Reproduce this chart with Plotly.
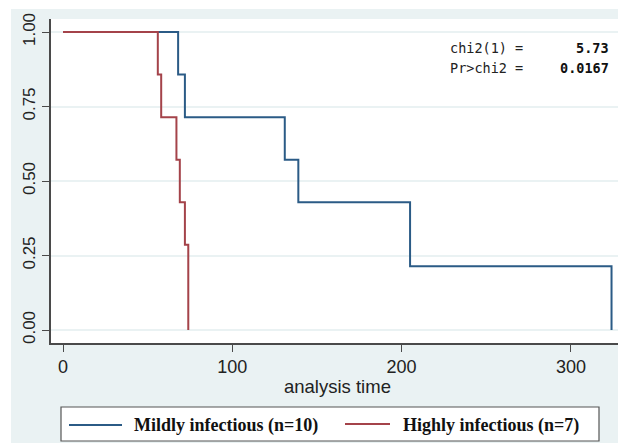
import plotly.graph_objects as go

# Kaplan-Meier survival estimates by group
mild_time = [0, 68, 72, 131, 139, 205, 324]
mild_surv = [1.0, 0.857, 0.714, 0.571, 0.429, 0.214, 0.0]

high_time = [0, 56, 58, 67, 69, 72, 74]
high_surv = [1.0, 0.857, 0.714, 0.571, 0.429, 0.286, 0.0]

mild_name = "Mildly infectious (n=10)"
high_name = "Highly infectious (n=7)"

x_ticks = [0, 100, 200, 300]
y_ticks = [0.0, 0.25, 0.50, 0.75, 1.0]

chi_label = ["chi2(1) =", "Pr>chi2 ="]
chi_value = ["5.73", "0.0167"]

BLUE = "#2b5b86"
RED = "#a4434a"
BG = "#eaf2f3"
AXIS = "#4a4a4a"
SANS = "Arial, Liberation Sans, Helvetica, sans-serif"

# plot area geometry in pixels
W, H = 618, 443
L, R, T, B = 51, 0, 19, 100
PW, PH = W - L - R, H - T - B


def px(x):
    return (x - L) / PW


def py(y):
    return (H - B - y) / PH


fig = go.Figure()
fig.add_trace(go.Scatter(x=mild_time, y=mild_surv, mode="lines", line_shape="hv",
                         line=dict(color=BLUE, width=2), name=mild_name,
                         showlegend=False))
fig.add_trace(go.Scatter(x=high_time, y=high_surv, mode="lines", line_shape="hv",
                         line=dict(color=RED, width=2), name=high_name,
                         showlegend=False))

shapes = [
    # white margin strips around the graph region
    dict(type="rect", xref="paper", yref="paper", x0=-0.2, x1=px(11), y0=-0.5, y1=1.2,
         fillcolor="white", line_width=0, layer="below"),
    dict(type="rect", xref="paper", yref="paper", x0=-0.2, x1=1.2, y0=py(9), y1=1.2,
         fillcolor="white", line_width=0, layer="below"),
    # legend box
    dict(type="rect", xref="paper", yref="paper", x0=px(61), x1=px(599), y0=py(441), y1=py(407),
         fillcolor="white", line=dict(color="#555555", width=1.2), layer="above"),
    dict(type="line", xref="paper", yref="paper", x0=px(69), x1=px(122), y0=py(425), y1=py(425),
         line=dict(color=BLUE, width=2)),
    dict(type="line", xref="paper", yref="paper", x0=px(345), x1=px(390), y0=py(424), y1=py(424),
         line=dict(color=RED, width=2)),
]

annotations = [
    dict(text="analysis time", xref="paper", yref="paper", x=px(337.5), y=py(386),
         showarrow=False, xanchor="center", yanchor="middle",
         font=dict(family=SANS, size=18.5, color="#222222")),
    dict(text="<b>" + mild_name + "</b>", xref="paper", yref="paper", x=px(132), y=py(425),
         showarrow=False, xanchor="left", yanchor="middle",
         font=dict(family="Liberation Serif, Times New Roman", size=18, color="#111111")),
    dict(text="<b>" + high_name + "</b>", xref="paper", yref="paper", x=px(401), y=py(425),
         showarrow=False, xanchor="left", yanchor="middle",
         font=dict(family="Liberation Serif, Times New Roman", size=18, color="#111111")),
]
for i, (lab, val) in enumerate(zip(chi_label, chi_value)):
    yy = py(48 + 20 * i)
    annotations.append(dict(text=lab, xref="paper", yref="paper", x=px(448), y=yy,
                            showarrow=False, xanchor="left", yanchor="middle",
                            font=dict(family="DejaVu Sans Mono", size=13.5, color="#222222")))
    annotations.append(dict(text="<b>" + val + "</b>", xref="paper", yref="paper", x=px(611), y=yy,
                            showarrow=False, xanchor="right", yanchor="middle",
                            font=dict(family="DejaVu Sans Mono", size=13.5, color="#111111")))

fig.update_layout(
    width=W, height=H,
    margin=dict(l=L, r=R, t=T, b=B, pad=0),
    paper_bgcolor=BG, plot_bgcolor="white",
    shapes=shapes, annotations=annotations,
    showlegend=False,
    font=dict(family=SANS),
)

x0_px, x100_px = 63, 232.3
xs = 100 / (x100_px - x0_px)
fig.update_xaxes(
    range=[(L - x0_px) * xs, (W - R - x0_px) * xs],
    tickvals=x_ticks, ticks="outside", ticklen=7, tickwidth=1.3, tickcolor=AXIS,
    showline=True, linecolor=AXIS, linewidth=1.5, showgrid=False, zeroline=False,
    tickfont=dict(family=SANS, size=18, color="#222222"),
)

y1_px, y0_px = 32, 330
ys = 1 / (y0_px - y1_px)
fig.update_yaxes(
    range=[(y0_px - (H - B)) * ys, (y0_px - T) * ys],
    tickvals=y_ticks, ticktext=["0.00", "0.25", "0.50", "0.75", "1.00"], tickangle=-90,
    ticks="outside", ticklen=7, tickwidth=1.3, tickcolor=AXIS,
    showline=True, linecolor=AXIS, linewidth=1.5,
    showgrid=True, gridcolor=BG, gridwidth=1.5, zeroline=False,
    tickfont=dict(family=SANS, size=17, color="#222222"),
)

fig.write_html("out.html")
